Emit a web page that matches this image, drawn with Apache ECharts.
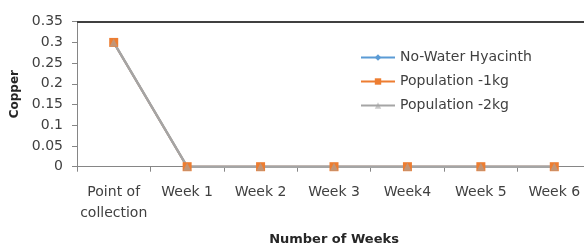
<!DOCTYPE html>
<html><head><meta charset="utf-8">
<script src="https://cdn.jsdelivr.net/npm/echarts@6/dist/echarts.min.js"></script>
<style>html,body{margin:0;padding:0;background:#fff}#c{width:584px;height:249px}</style>
</head><body><div id="c"></div>
<script>
const categories = ['Point of\ncollection', 'Week 1', 'Week 2', 'Week 3', 'Week4', 'Week 5', 'Week 6'];
const noWaterHyacinth = [0.3, 0, 0, 0, 0, 0, 0];
const population1kg = [0.3, 0, 0, 0, 0, 0, 0];
const population2kg = [0.3, 0, 0, 0, 0, 0, 0];
const yTicks = [0, 0.05, 0.1, 0.15, 0.2, 0.25, 0.3, 0.35];

const font = 'DejaVu Sans, sans-serif';
const chart = echarts.init(document.getElementById('c'));
chart.setOption({
  animation: false,
  backgroundColor: '#fff',
  grid: { left: 77, top: 21.7, width: 514, height: 145, containLabel: false, outerBoundsMode: 'none' },
  legend: {
    orient: 'vertical', left: 355, top: 45.5, itemGap: 10, itemWidth: 34, itemHeight: 8,
    textStyle: { fontFamily: font, fontSize: 14, color: '#404040' },
    data: ['No-Water Hyacinth', 'Population -1kg', 'Population -2kg']
  },
  xAxis: {
    type: 'category', data: categories, boundaryGap: true,
    name: 'Number of Weeks', nameLocation: 'middle', nameGap: 66,
    nameTextStyle: { fontFamily: font, fontSize: 13, fontWeight: 'bold', color: '#262626' },
    axisLine: { lineStyle: { color: '#868686', width: 1 } },
    axisTick: { show: true, alignWithLabel: false, length: 5, lineStyle: { color: '#868686' } },
    axisLabel: { interval: 0, fontFamily: font, fontSize: 14, color: '#404040', margin: 15, lineHeight: 21 }
  },
  yAxis: {
    type: 'value', min: 0, max: yTicks[yTicks.length - 1], interval: 0.05,
    name: 'Copper', nameLocation: 'middle', nameGap: 55, nameRotate: 90,
    nameTextStyle: { fontFamily: font, fontSize: 12, fontWeight: 'bold', color: '#262626' },
    axisLine: { show: true, lineStyle: { color: '#868686' } },
    axisTick: { show: true, length: 5, lineStyle: { color: '#868686' } },
    splitLine: { show: false },
    axisLabel: { fontFamily: font, fontSize: 14, color: '#404040', margin: 14,
      formatter: v => String(+v.toFixed(2)) }
  },
  series: [
    { name: 'No-Water Hyacinth', type: 'line', data: noWaterHyacinth, symbol: 'diamond', symbolSize: 8,
      itemStyle: { color: '#5b9bd5' }, lineStyle: { color: '#5b9bd5', width: 2 },
      markLine: { silent: true, symbol: 'none', label: { show: false },
        lineStyle: { color: '#404040', width: 2, type: 'solid' }, data: [{ yAxis: 0.35 }] } },
    { name: 'Population -1kg', type: 'line', data: population1kg, symbol: 'rect', symbolSize: 9,
      itemStyle: { color: '#ed7d31' }, lineStyle: { color: '#ed7d31', width: 2 } },
    { name: 'Population -2kg', type: 'line', data: population2kg, symbol: 'triangle', symbolSize: 8,
      itemStyle: { color: '#a5a5a5', opacity: 0.6 }, lineStyle: { color: '#a5a5a5', width: 2.5, opacity: 1 } }
  ]
});
</script></body></html>
